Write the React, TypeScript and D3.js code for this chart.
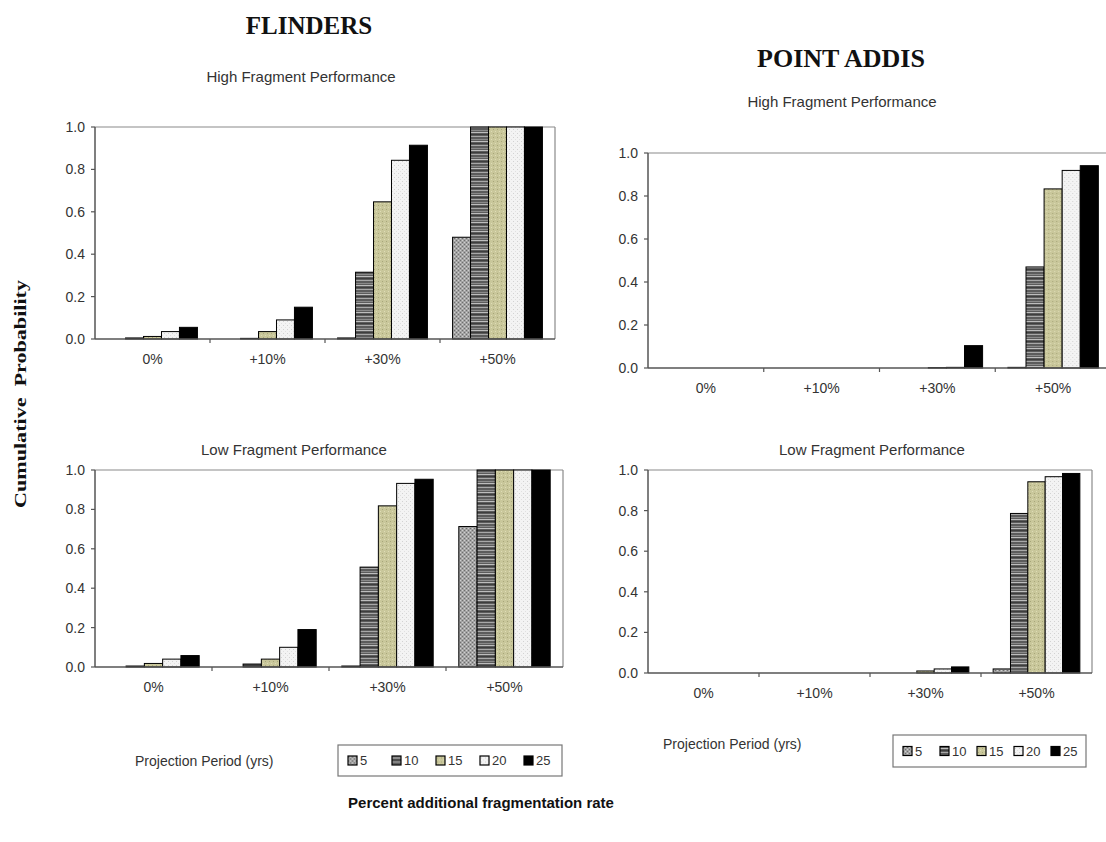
import React from 'react';
import * as d3 from 'd3';

// categories and series
const categories = ['0%', '+10%', '+30%', '+50%'];
const periods = ['5', '10', '15', '20', '25'];
const yTicks = [0, 0.2, 0.4, 0.6, 0.8, 1.0];

// rows = projection period (5..25 yrs), columns = category
const flindersHigh = [
  [0, 0, 0.005, 0.48],
  [0.005, 0.003, 0.315, 1],
  [0.012, 0.035, 0.647, 1],
  [0.035, 0.09, 0.843, 1],
  [0.055, 0.15, 0.914, 1],
];
const flindersLow = [
  [0, 0, 0.005, 0.713],
  [0.005, 0.015, 0.507, 1],
  [0.018, 0.04, 0.818, 1],
  [0.04, 0.1, 0.932, 1],
  [0.058, 0.19, 0.953, 1],
];
const pointAddisHigh = [
  [0, 0, 0, 0.003],
  [0, 0, 0, 0.47],
  [0, 0, 0.002, 0.833],
  [0, 0, 0.003, 0.919],
  [0, 0, 0.104, 0.941],
];
const pointAddisLow = [
  [0, 0, 0, 0.02],
  [0, 0, 0, 0.786],
  [0, 0, 0.01, 0.942],
  [0, 0, 0.02, 0.967],
  [0, 0, 0.03, 0.983],
];

const fills = ['url(#p5)', 'url(#p10)', 'url(#p15)', 'url(#p20)', '#000'];
const SANS = "'Liberation Sans', Arial, sans-serif";
const SERIF = "'Liberation Serif', 'Times New Roman', serif";

function Patterns() {
  return (
    <defs>
      <pattern id="p5" width="4" height="4" patternUnits="userSpaceOnUse">
        <rect width="4" height="4" fill="#a3a3a3" />
        <rect x="0" y="0" width="1" height="1" fill="#6e6e6e" />
        <rect x="2" y="2" width="1" height="1" fill="#6e6e6e" />
        <rect x="2" y="0" width="1" height="1" fill="#d0d0d0" />
        <rect x="0" y="2" width="1" height="1" fill="#cfcfcf" />
      </pattern>
      <pattern id="p10" width="6" height="9" patternUnits="userSpaceOnUse">
        <rect width="6" height="9" fill="#5c5c5c" />
        <rect y="1" width="6" height="1" fill="#a8a8a8" />
        <rect y="4" width="6" height="1" fill="#8a8a8a" />
        <rect y="6" width="6" height="1" fill="#bdbdbd" />
        <rect y="8" width="6" height="1" fill="#3e3e3e" />
      </pattern>
      <pattern id="p15" width="4" height="4" patternUnits="userSpaceOnUse">
        <rect width="4" height="4" fill="#c9c79b" />
        <rect x="1" y="1" width="1" height="1" fill="#a8a67a" />
        <rect x="3" y="3" width="1" height="1" fill="#dedcb6" />
      </pattern>
      <pattern id="p20" width="4" height="4" patternUnits="userSpaceOnUse">
        <rect width="4" height="4" fill="#f3f3f3" />
        <rect x="1" y="1" width="1" height="1" fill="#d2d2d2" />
        <rect x="3" y="3" width="1" height="1" fill="#e0e0e0" />
      </pattern>
    </defs>
  );
}

type PanelProps = {
  values: number[][];
  x0: number; x1: number; yTop: number; yBot: number;
  title: string; titleX: number; titleY: number;
  tickSize: number;
};

function Panel({ values, x0, x1, yTop, yBot, title, titleX, titleY, tickSize }: PanelProps) {
  const x = d3.scaleBand().domain(categories).range([x0, x1]);
  const xi = d3.scaleBand().domain(periods).range([0, x.bandwidth()]).paddingOuter(0.7);
  const y = d3.scaleLinear().domain([0, 1]).range([yBot, yTop]);
  const fmt = d3.format('.1f');
  return (
    <g>
      <text x={titleX} y={titleY} textAnchor="middle" fontFamily={SANS} fontSize={15} fill="#333">{title}</text>
      {/* frame */}
      <line x1={x0} x2={x1} y1={yTop} y2={yTop} stroke="#8a8a8a" strokeWidth={1.2} />
      <line x1={x1} x2={x1} y1={yTop} y2={yBot} stroke="#8a8a8a" strokeWidth={1.2} />
      {/* bars */}
      {categories.map((c, ci) => (
        <g key={c} transform={`translate(${x(c)},0)`}>
          {periods.map((p, pi) => {
            const v = values[pi][ci];
            if (v <= 0) return null;
            return (
              <rect key={p} x={xi(p)} width={xi.bandwidth()} y={y(v)} height={Math.max(0.5, yBot - y(v))}
                fill={fills[pi]} stroke="#000" strokeWidth={1} />
            );
          })}
        </g>
      ))}
      {/* axes */}
      <line x1={x0} x2={x0} y1={yTop} y2={yBot} stroke="#555" strokeWidth={1.5} />
      <line x1={x0} x2={x1} y1={yBot} y2={yBot} stroke="#555" strokeWidth={1.5} />
      {yTicks.map(t => (
        <g key={t}>
          <line x1={x0 - 4} x2={x0} y1={y(t)} y2={y(t)} stroke="#555" strokeWidth={1.2} />
          <text x={x0 - 10} y={y(t)} dy="0.35em" textAnchor="end" fontFamily={SANS} fontSize={tickSize} fill="#333">{fmt(t)}</text>
        </g>
      ))}
      {categories.slice(1).map(c => (
        <line key={c} x1={x(c)} x2={x(c)} y1={yBot} y2={yBot + 4} stroke="#555" strokeWidth={1.2} />
      ))}
      {categories.map(c => (
        <text key={c} x={(x(c) as number) + x.bandwidth() / 2} y={yBot + 25} textAnchor="middle"
          fontFamily={SANS} fontSize={tickSize} fill="#333">{c}</text>
      ))}
    </g>
  );
}

type LegendProps = { bx: number; by: number; bw: number; bh: number; step: number; labelX: number; labelY: number };

function Legend({ bx, by, bw, bh, step, labelX, labelY }: LegendProps) {
  return (
    <g fontFamily={SANS} fill="#333">
      <text x={labelX} y={labelY} dy="0.35em" fontSize={14}>Projection Period (yrs)</text>
      <rect x={bx} y={by} width={bw} height={bh} fill="#fff" stroke="#777" strokeWidth={1.2} />
      {periods.map((p, i) => (
        <g key={p} transform={`translate(${bx + 10 + i * step},${by + bh / 2})`}>
          <rect x={0} y={-4.5} width={9} height={9} fill={fills[i]} stroke="#000" strokeWidth={1.2} />
          <text x={12} y={0} dy="0.35em" fontSize={13}>{p}</text>
        </g>
      ))}
    </g>
  );
}

export default function App() {
  return (
    <svg width={1106} height={842} style={{ position: 'absolute', left: 0, top: 0, background: '#fff' }}>
      <Patterns />
      <text x={309} y={34} textAnchor="middle" fontFamily={SERIF} fontWeight="bold" fontSize={25} fill="#111">FLINDERS</text>
      <text x={841} y={67} textAnchor="middle" fontFamily={SERIF} fontWeight="bold" fontSize={26} fill="#111">POINT ADDIS</text>

      <Panel values={flindersHigh} x0={95} x1={555} yTop={127} yBot={339}
        title="High Fragment Performance" titleX={301} titleY={82} tickSize={14} />
      <Panel values={pointAddisHigh} x0={648} x1={1111} yTop={153} yBot={368}
        title="High Fragment Performance" titleX={842} titleY={107} tickSize={14} />
      <Panel values={flindersLow} x0={95} x1={563} yTop={470} yBot={667}
        title="Low Fragment Performance" titleX={294} titleY={455} tickSize={14} />
      <Panel values={pointAddisLow} x0={648} x1={1092} yTop={470} yBot={673}
        title="Low  Fragment Performance" titleX={872} titleY={455} tickSize={14} />

      <text transform="translate(26,394) rotate(-90)" textAnchor="middle" fontFamily={SERIF} fontWeight="bold"
        fontSize={17} fill="#111" textLength={228} lengthAdjust="spacingAndGlyphs" style={{ whiteSpace: 'pre' }}>
        Cumulative  Probability
      </text>

      <Legend bx={338} by={745} bw={224} bh={31} step={44} labelX={135} labelY={761} />
      <Legend bx={893} by={735} bw={193} bh={32} step={37} labelX={663} labelY={744} />

      <text x={481} y={808} textAnchor="middle" fontFamily={SANS} fontWeight="bold" fontSize={15} fill="#111">
        Percent additional fragmentation rate
      </text>
    </svg>
  );
}
